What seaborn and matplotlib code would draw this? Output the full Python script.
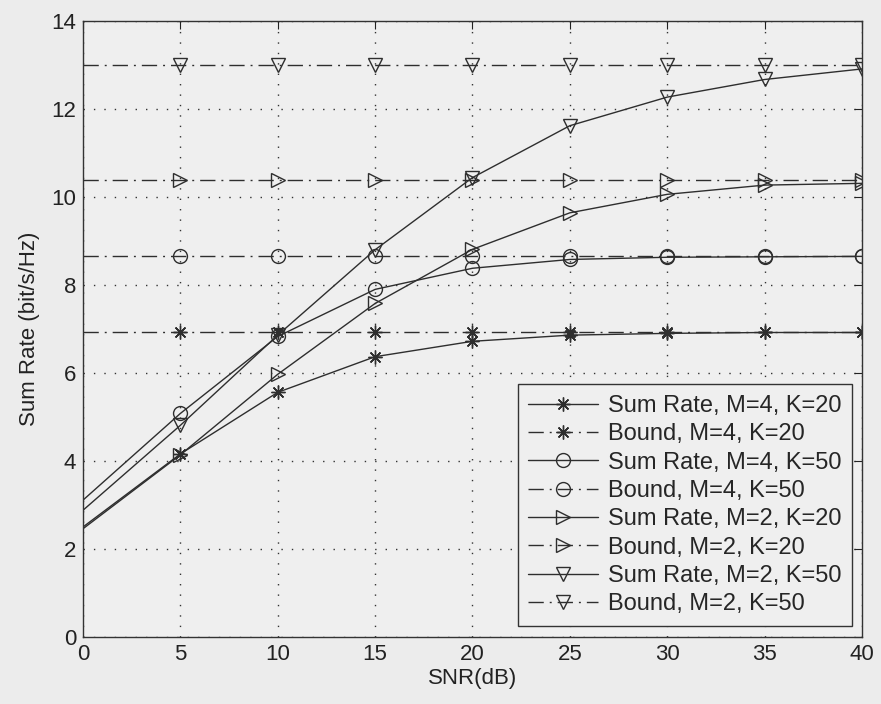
import pandas as pd
import matplotlib
matplotlib.use("Agg")
import matplotlib.pyplot as plt
import numpy as np
import seaborn as sns


## values
snr = [0, 5, 10, 15, 20, 25, 30, 35, 40]

rate_m4_k20 = [2.50, 4.16, 5.56, 6.37, 6.72, 6.86, 6.90, 6.92, 6.92]
rate_m4_k50 = [3.11, 5.08, 6.83, 7.90, 8.38, 8.58, 8.63, 8.64, 8.65]
rate_m2_k20 = [2.46, 4.14, 5.97, 7.58, 8.81, 9.64, 10.06, 10.27, 10.31]
rate_m2_k50 = [2.88, 4.81, 6.86, 8.80, 10.44, 11.62, 12.27, 12.67, 12.91]

bound_m4_k20 = [6.92] * 9
bound_m4_k50 = [8.65] * 9
bound_m2_k20 = [10.39] * 9
bound_m2_k50 = [13.0] * 9

labels = ["Sum Rate, M=4, K=20", "Bound, M=4, K=20",
          "Sum Rate, M=4, K=50", "Bound, M=4, K=50",
          "Sum Rate, M=2, K=20", "Bound, M=2, K=20",
          "Sum Rate, M=2, K=50", "Bound, M=2, K=50"]

BG = "#ececec"
LINE = "#2e2e2e"
DASHDOT = (0, (11, 4.3, 1.4, 4.3))

sns.set_style("white")
plt.rcParams["font.family"] = ["Liberation Sans", "DejaVu Sans"]

fig = plt.figure(figsize=(8.81, 7.04), dpi=100, facecolor=BG)
ax = fig.add_axes([0.0942, 0.0952, 0.8842, 0.875])
ax.set_facecolor("#efefef")

series = [
    (rate_m4_k20, (8, 2, 0), "-"),
    (bound_m4_k20, (8, 2, 0), DASHDOT),
    (rate_m4_k50, "o", "-"),
    (bound_m4_k50, "o", DASHDOT),
    (rate_m2_k20, ">", "-"),
    (bound_m2_k20, ">", DASHDOT),
    (rate_m2_k50, "v", "-"),
    (bound_m2_k50, "v", DASHDOT),
]

for (vals, mk, ls), lab in zip(series, labels):
    df = pd.DataFrame({"snr": snr, "rate": vals})
    sns.lineplot(data=df, x="snr", y="rate", ax=ax, color=LINE, linewidth=1.0,
                 linestyle=ls, marker=mk, markersize=10, markerfacecolor="none",
                 markeredgecolor=LINE, markeredgewidth=1.0,
                 markevery=list(range(1, 9)), label=lab)

ax.set_xlim(0, 40)
ax.set_ylim(0, 14)
ax.set_xticks(np.arange(0, 41, 5))
ax.set_yticks(np.arange(0, 15, 2))
ax.grid(True, linestyle=(0, (1, 6.5)), color="#333333", linewidth=1.0)
ax.tick_params(direction="in", length=6, top=True, right=True, labelsize=16,
               colors="#222222", pad=5)
for s in ax.spines.values():
    s.set_color("#333333")
    s.set_linewidth(1.0)

ax.set_xlabel("SNR(dB)", fontsize=16, labelpad=2, color="#222222")
ax.set_ylabel("Sum Rate (bit/s/Hz)", fontsize=16, labelpad=8, color="#222222")

leg = ax.legend(loc="lower right", bbox_to_anchor=(0.987, 0.0178), borderaxespad=0,
                fontsize=17, frameon=True, fancybox=False, edgecolor="#333333",
                facecolor="#efefef", framealpha=1, handlelength=2.95,
                labelspacing=0.27, borderpad=0.45, handletextpad=0.42)
leg.get_frame().set_linewidth(1.0)

plt.savefig("out.png", dpi=100, facecolor=BG)
